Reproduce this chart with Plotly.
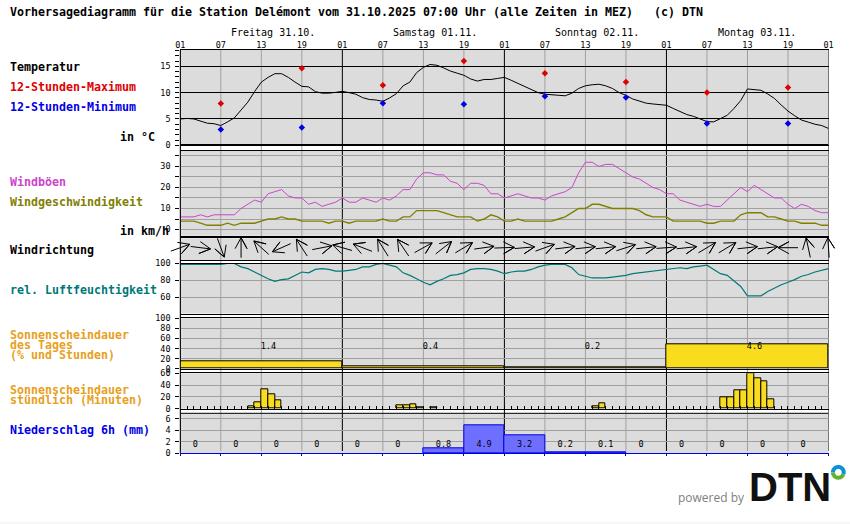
import math
import plotly.graph_objects as go

# hours since Friday 01:00
hours = list(range(97))

temperature = [5.0, 5.1, 5.0, 4.65, 4.2, 4.1, 3.75, 4.45, 5.2, 6.7, 8.2, 10.2, 12.0, 12.9, 13.6, 13.6, 12.9, 12.0,
               11.2, 11.1, 10.2, 9.9, 9.9, 10.05, 10.25, 10.0, 9.7, 9.05, 8.7, 8.6, 8.35, 9.0, 9.8, 11.3, 12.0, 13.8,
               14.8, 15.35, 15.2, 14.7, 14.1, 13.7, 13.3, 12.6, 12.2, 12.5, 12.5, 12.7, 12.9, 12.35, 11.8, 11.2, 10.6,
               10.0, 9.7, 9.55, 9.5, 9.4, 9.9, 10.8, 11.3, 11.5, 11.6, 11.3, 10.8, 10.0, 9.5, 8.8, 8.35, 8.0, 7.85,
               7.7, 7.6, 7.0, 6.45, 5.85, 5.5, 5.0, 4.5, 4.45, 5.1, 5.7, 7.0, 8.5, 10.7, 10.6, 10.45, 9.75, 8.9, 7.65,
               6.5, 5.6, 4.8, 4.4, 4.0, 3.75, 3.2]

extreme_hours = [6, 18, 30, 42, 54, 66, 78, 90]
temp_max = [7.95, 14.65, 11.4, 16.0, 13.7, 12.0, 10.05, 11.0]
temp_min = [3.0, 3.4, 8.0, 7.8, 9.3, 9.1, 4.15, 4.15]

wind_gust = [6, 6, 6, 7, 6, 7, 7, 7, 7, 10, 12, 14, 13, 17, 18, 19, 16, 15, 15, 12, 13, 11, 12, 13, 15, 13, 13, 15, 14,
             13, 15, 14, 16, 19, 19, 24, 27, 27, 26, 26, 23, 22, 19, 22, 22, 21, 17, 17, 15, 16, 17, 16, 15, 15, 14,
             16, 17, 18, 20, 27, 32, 32, 30, 31, 31, 29, 27, 25, 24, 22, 20, 19, 17, 17, 14, 13, 12, 11, 12, 11, 11,
             14, 17, 20, 18, 21, 19, 17, 15, 15, 12, 10, 12, 11, 9, 8, 8]

wind_speed = [4, 4, 4, 3, 2, 2, 2, 3, 2, 3, 3, 3, 4, 5, 5, 6, 5, 5, 4, 4, 4, 4, 3, 4, 4, 3, 4, 4, 4, 4, 5, 4, 4, 6, 6,
              9, 9, 9, 9, 8, 7, 6, 6, 6, 4, 5, 7, 6, 4, 4, 5, 4, 4, 4, 4, 4, 5, 6, 8, 10, 10, 12, 12, 11, 10, 10, 10,
              10, 9, 7, 6, 6, 6, 4, 4, 4, 4, 4, 3, 3, 4, 4, 4, 7, 8, 8, 8, 6, 6, 5, 4, 4, 3, 3, 3, 2, 2]

# bearing the arrow points to, every 3 hours
wind_dir_hours = list(range(0, 97, 3))
wind_dir = [70, 97, 160, 0, 312, 246, 327, 79, 286, 291, 328, 326, 61, 52, 59, 82, 88, 85, 70, 83, 84, 84, 72, 84, 86,
            84, 59, 59, 84, 84, 270, 348, 356]

humidity = [99, 99, 99, 99, 99, 99, 99, 100, 100, 96, 94, 90, 86, 82, 79, 81, 82, 86, 90, 89, 93, 94, 93, 91, 91, 92,
            93, 96, 96, 99, 100, 98, 96, 89, 86, 82, 78, 75, 79, 82, 86, 87, 89, 93, 94, 94, 93, 91, 88, 90, 91, 91,
            93, 96, 98, 99, 99, 99, 95, 87, 85, 83, 83, 83, 84, 85, 86, 88, 89, 90, 91, 92, 93, 94, 95, 94, 96, 97,
            98, 93, 88, 86, 79, 73, 62, 62, 62, 67, 71, 75, 78, 81, 85, 87, 90, 92, 94]

sun_day_starts = [0, 24, 48, 72]
sun_day_pct = [15, 5, 2, 49]
sun_day_hours = ["1.4", "0.4", "0.2", "4.6"]

sun_hour_starts = [10, 11, 12, 13, 14, 32, 33, 34, 35, 37, 61, 62, 80, 81, 82, 83, 84, 85, 86, 87]
sun_hour_min = [4, 11, 33, 24, 14, 6, 6, 7, 2, 2, 4, 9, 20, 20, 31, 31, 60, 52, 46, 16]

precip_starts = list(range(0, 96, 6))
precip = [0, 0, 0, 0, 0, 0, 0.8, 4.9, 3.2, 0.2, 0.1, 0, 0, 0, 0, 0]

hour_ticks = list(range(0, 97, 6))
hour_labels = ["01", "07", "13", "19"] * 4 + ["01"]

day_names = ["Freitag 31.10.", "Samstag 01.11.", "Sonntag 02.11.", "Montag 03.11."]

W, H = 850, 524
X0, X1 = 180.3, 828.5
BG = "#DCDCDC"
GRID = "#A0A0A0"
MONO = "DejaVu Sans Mono"
YELLOW = "#FADC1E"
ORANGE = "#E8A020"
BLUE = "#0000E6"
RED = "#E00000"
MAGENTA = "#CC44CC"
OLIVE = "#808000"
TEAL = "#007878"
PX_PER_HOUR = (X1 - X0) / 96


def px(x):
    return x / W


def py(y):
    return 1 - y / H


fig = go.Figure()

# panels: pixel top/bottom, y range, tick step, minor step, grid colour
panels = [
    (50.0, 145.3, [0, 18.1], 5, 1, "black"),
    (150.5, 235.7, [-2.95, 37.6], 10, 5, GRID),
    (238.3, 260.3, [-11, 11], None, None, GRID),
    (263.5, 313.5, [41.2, 100], 20, None, GRID),
    (318.3, 368.7, [0, 100], 20, None, GRID),
    (373.3, 408.7, [0, 60], 20, None, GRID),
    (413.3, 453.3, [0, 6.93], 2, None, GRID),
]

layout_axes = {}
for i, (top, bottom, rng, dtick, minor, grid) in enumerate(panels, start=1):
    suffix = "" if i == 1 else str(i)
    xax = dict(domain=[px(X0), px(X1)], range=[0, 96], anchor=f"y{suffix}", showgrid=False, zeroline=False,
               showline=True, mirror=True, linecolor="black", linewidth=1, showticklabels=False, ticks="")
    if i > 1:
        xax["matches"] = "x"
    yax = dict(domain=[py(bottom), py(top)], range=rng, anchor=f"x{suffix}", zeroline=False, showline=False,
               fixedrange=True, tickfont=dict(family=MONO, size=8.5, color="black"), ticklabelstandoff=3)
    if dtick is None:
        yax.update(showgrid=False, showticklabels=False, ticks="")
    else:
        yax.update(tick0=0, dtick=dtick, showgrid=True, gridcolor=grid, gridwidth=1, ticks="outside", ticklen=4,
                   tickcolor="black", tickwidth=1)
        if minor:
            yax["minor"] = dict(dtick=minor, tick0=0, ticks="outside", ticklen=4, tickcolor="black", showgrid=i == 2,
                                gridcolor=GRID, gridwidth=1)
    layout_axes[f"xaxis{suffix}"] = xax
    layout_axes[f"yaxis{suffix}"] = yax

# hour labels on top
layout_axes["xaxis"].update(side="top", showticklabels=True, tickvals=hour_ticks, ticktext=hour_labels,
                            tickfont=dict(family=MONO, size=8.5, color="black"), ticklen=0, ticklabelstandoff=-2)
# hourly ticks on the sunshine zero line
layout_axes["xaxis6"].update(tick0=0, dtick=1, ticks="inside", ticklen=3, tickcolor="black", tickwidth=1)
# precipitation baseline is blue, ticks every 6 hours
layout_axes["xaxis7"].update(mirror=False, linecolor=BLUE, tick0=0, dtick=6, ticks="outside", ticklen=2,
                             tickcolor=BLUE, tickwidth=1)

# invisible wider axes for the arrows, they stick out of their panel at both ends
ARROW_L, ARROW_R, ARROW_T, ARROW_B = 160, 846, 234, 266
ARROW_MID = (238.3 + 260.3) / 2
layout_axes["xaxis8"] = dict(domain=[px(ARROW_L), px(ARROW_R)], anchor="y8", visible=False,
                             range=[(ARROW_L - X0) / PX_PER_HOUR, (ARROW_R - X0) / PX_PER_HOUR])
layout_axes["yaxis8"] = dict(domain=[py(ARROW_B), py(ARROW_T)], anchor="x8", visible=False,
                             range=[ARROW_MID - ARROW_B, ARROW_MID - ARROW_T])

fig.update_layout(**layout_axes)

# temperature
fig.add_trace(go.Scatter(x=hours, y=temperature, mode="lines", line=dict(color="black", width=1)))
fig.add_trace(go.Scatter(x=extreme_hours, y=temp_max, mode="markers",
                         marker=dict(symbol="diamond", size=5, color=RED)))
fig.add_trace(go.Scatter(x=extreme_hours, y=temp_min, mode="markers",
                         marker=dict(symbol="diamond", size=5, color=BLUE)))

# wind
fig.add_trace(go.Scatter(x=hours, y=wind_gust, mode="lines", line=dict(color=MAGENTA, width=1), xaxis="x2", yaxis="y2"))
fig.add_trace(go.Scatter(x=hours, y=wind_speed, mode="lines", line=dict(color=OLIVE, width=1.4), xaxis="x2", yaxis="y2"))

# empty trace so the direction panel keeps its frame lines
fig.add_trace(go.Scatter(x=[None], y=[None], mode="lines", xaxis="x3", yaxis="y3"))

# wind direction arrows, y axis of this panel is in pixels
arrow_x, arrow_y = [], []
ARROW_LEN = 20
BARB_LEN = 12.5
BARB_ANGLE = 0.5
for h, bearing in zip(wind_dir_hours, wind_dir):
    b = math.radians(bearing)
    tip = (0.5 * ARROW_LEN * math.sin(b), 1.6 + 0.5 * ARROW_LEN * math.cos(b))
    tail = (-0.5 * ARROW_LEN * math.sin(b), 1.6 - 0.5 * ARROW_LEN * math.cos(b))
    left = (tip[0] - BARB_LEN * math.sin(b - BARB_ANGLE), tip[1] - BARB_LEN * math.cos(b - BARB_ANGLE))
    right = (tip[0] - BARB_LEN * math.sin(b + BARB_ANGLE), tip[1] - BARB_LEN * math.cos(b + BARB_ANGLE))
    for p in [tail, tip, left, tip, right]:
        arrow_x.append(h + p[0] / PX_PER_HOUR)
        arrow_y.append(p[1])
    arrow_x.append(None)
    arrow_y.append(None)
fig.add_trace(go.Scatter(x=arrow_x, y=arrow_y, mode="lines", line=dict(color="black", width=1, simplify=False),
                         xaxis="x8", yaxis="y8"))

# humidity
fig.add_trace(go.Scatter(x=hours, y=humidity, mode="lines", line=dict(color=TEAL, width=1.2), xaxis="x4", yaxis="y4"))

# daily sunshine
fig.add_trace(go.Bar(x=[s + 12 for s in sun_day_starts], y=sun_day_pct, width=24,
                     marker=dict(color=YELLOW, line=dict(color="black", width=1)), xaxis="x5", yaxis="y5"))
fig.add_trace(go.Scatter(x=[s + 11.9 for s in sun_day_starts], y=[43] * 4, mode="text", text=sun_day_hours,
                         textposition="middle right", textfont=dict(family=MONO, size=8.5, color="black"),
                         cliponaxis=False, xaxis="x5", yaxis="y5"))

# hourly sunshine
fig.add_trace(go.Bar(x=[s + 0.5 for s in sun_hour_starts], y=sun_hour_min, width=1,
                     marker=dict(color=YELLOW, line=dict(color="black", width=1)), xaxis="x6", yaxis="y6"))

# precipitation, dry periods get no bar so the baseline stays thin
wet = [(s, v) for s, v in zip(precip_starts, precip) if v > 0]
fig.add_trace(go.Bar(x=[s + 3 for s, v in wet], y=[v for s, v in wet], width=6,
                     marker=dict(color="#6E6EFF", line=dict(color=BLUE, width=1)), xaxis="x7", yaxis="y7"))
fig.add_trace(go.Scatter(x=[s + 1.85 for s in precip_starts], y=[1.44] * len(precip), mode="text",
                         text=[f"{v:g}" for v in precip], textposition="middle right",
                         textfont=dict(family=MONO, size=8.5, color="black"), cliponaxis=False,
                         xaxis="x7", yaxis="y7"))

# grey panel backgrounds as shapes, the arrow subplot must not paint its wider area
shapes = []
for top, bottom, *_ in panels:
    shapes.append(dict(type="rect", layer="below", xref="paper", yref="paper", x0=px(X0), x1=px(X1), y0=py(bottom),
                       y1=py(top), fillcolor=BG, line=dict(width=0)))
# vertical lines, running through the white gaps between panels
for h in hour_ticks:
    shapes.append(dict(type="line", layer="below", xref="x", yref="paper", x0=h, x1=h, y0=py(451), y1=py(50),
                       line=dict(color="black" if h % 24 == 0 else GRID, width=1)))
# left axis line
shapes.append(dict(type="line", xref="paper", yref="paper", x0=px(X0), x1=px(X0), y0=py(453.3), y1=py(50),
                   line=dict(color="black", width=1)))
# thick zero line in temperature, black top of precipitation panel
shapes.append(dict(type="line", xref="x", yref="y", x0=0, x1=96, y0=0, y1=0, line=dict(color="black", width=2.5)))
shapes.append(dict(type="line", xref="x7", yref="paper", x0=0, x1=96, y0=py(413.3), y1=py(413.3),
                   line=dict(color="black", width=1)))
# faint line at the page bottom
shapes.append(dict(type="line", xref="paper", yref="paper", x0=0, x1=1, y0=py(523), y1=py(523),
                   line=dict(color="#EEEEEE", width=1)))


# logo ring
def ring_path(cx, cy, r, a0, a1):
    pts = []
    for k in range(25):
        a = math.radians(a0 + (a1 - a0) * k / 24)
        pts.append((px(cx + r * math.cos(a)), py(cy - r * math.sin(a))))
    return "M" + " L".join(f"{x:.5f},{y:.5f}" for x, y in pts)


shapes.append(dict(type="path", xref="paper", yref="paper", path=ring_path(838.3, 472.3, 5.4, -20, 180),
                   line=dict(color="#0A94D6", width=4)))
shapes.append(dict(type="path", xref="paper", yref="paper", path=ring_path(838.3, 472.3, 5.4, 180, 340),
                   line=dict(color="#62B22F", width=4)))
fig.update_layout(shapes=shapes)

# texts in pixel positions
labels = [
    ("Vorhersagediagramm für die Station Delémont vom 31.10.2025 07:00 Uhr (alle Zeiten in MEZ)   (c) DTN",
     10, 12, "black"),
    ("Temperatur", 10, 67, "black"),
    ("12-Stunden-Maximum", 10, 87, RED),
    ("12-Stunden-Minimum", 10, 107, BLUE),
    ("in °C", 120, 137, "black"),
    ("Windböen", 10, 182, MAGENTA),
    ("Windgeschwindigkeit", 10, 202, OLIVE),
    ("in km/h", 120, 231, "black"),
    ("Windrichtung", 10, 250, "black"),
    ("rel. Luftfeuchtigkeit", 10, 290, TEAL),
    ("Sonnenscheindauer", 10, 335, ORANGE),
    ("des Tages", 10, 345, ORANGE),
    ("(% und Stunden)", 10, 355, ORANGE),
    ("Sonnenscheindauer", 10, 390, ORANGE),
    ("stündlich (Minuten)", 10, 400, ORANGE),
    ("Niederschlag 6h (mm)", 10, 430, BLUE),
]
for text, x, y, color in labels:
    fig.add_annotation(text=f"<b>{text}</b>".replace("   ", "&nbsp;&nbsp;&nbsp;"), xref="paper", yref="paper",
                       x=px(x), y=py(y), xanchor="left", yanchor="middle", showarrow=False, borderpad=0, borderwidth=0,
                       font=dict(family=MONO, size=11.63, color=color))

for name, x in zip(day_names, [230.3, 392.3, 554.3, 716.7]):
    fig.add_annotation(text=name, xref="paper", yref="paper", x=px(x), y=py(33), xanchor="left", yanchor="middle",
                       showarrow=False, borderpad=0, font=dict(family=MONO, size=10, color="black"))

fig.add_annotation(text="powered by", xref="paper", yref="paper", x=px(677), y=py(497), xanchor="left",
                   yanchor="middle", showarrow=False, borderpad=0,
                   font=dict(family="Open Sans", size=12, color="#808080"))
fig.add_annotation(text="<b>DTN</b>", xref="paper", yref="paper", x=px(748), y=py(487), xanchor="left",
                   yanchor="middle", showarrow=False, borderpad=0,
                   font=dict(family="Liberation Sans", size=40, color="#111111"))

fig.update_layout(width=W, height=H, margin=dict(l=0, r=0, t=0, b=0, pad=0, autoexpand=False),
                  paper_bgcolor="white", plot_bgcolor="rgba(0,0,0,0)", showlegend=False, barmode="overlay", bargap=0)

fig.write_html("out.html", config={"displayModeBar": False},
               post_script="document.body.style.margin='0';document.documentElement.style.overflow='hidden';")
